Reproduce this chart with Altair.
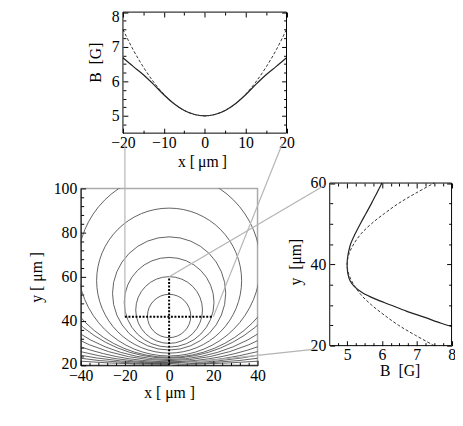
import math
import altair as alt
import pandas as pd

# ---------------- data ----------------
# top panel: |B| along x through the trap (y = 42 um)
top_x = [-20, -17.5, -15, -12.5, -10, -7.5, -5, -2.5, 0, 2.5, 5, 7.5, 10, 12.5, 15, 17.5, 20]
top_B_exact = [6.68, 6.43, 6.19, 5.91, 5.61, 5.35, 5.155, 5.04, 5.0, 5.04, 5.155, 5.35, 5.61, 5.91, 6.19, 6.43, 6.68]
top_B_harmonic = [7.5, 6.91, 6.41, 5.98, 5.625, 5.35, 5.156, 5.04, 5.0, 5.04, 5.156, 5.35, 5.625, 5.98, 6.41, 6.91, 7.5]

# right panel: |B| along y (x = 0)
right_y_exact = [24.7, 25.5, 27, 28.5, 30, 31.5, 33, 34.5, 36, 37.5, 39, 40, 41.5, 43, 45, 47.5, 50, 52.5, 55, 57.5, 60]
right_B_exact = [8.0, 7.70, 7.21, 6.70, 6.25, 5.80, 5.44, 5.21, 5.08, 5.025, 5.003, 5.0, 5.01, 5.04, 5.10, 5.23, 5.38, 5.54, 5.70, 5.85, 6.0]
right_y_harmonic = [20, 22.5, 25, 27.5, 30, 32.5, 35, 37.5, 40, 42.5, 45, 47.5, 50, 52.5, 55, 57.5, 60]
right_B_harmonic = [7.5, 6.97, 6.48, 6.07, 5.70, 5.40, 5.19, 5.05, 5.0, 5.05, 5.19, 5.40, 5.70, 6.07, 6.48, 6.97, 7.5]

# main panel: contour circles (centre on x = 0), centre y and radius in um
circle_cy = [42.3, 45.0, 48.5, 52.5, 58.3, 65.5, 77.0, 84.3, 98.3, 116.3, 144.1, 184.5, 245.7, 343.6, 581.4]
circle_r = [9.8, 15.1, 20.3, 25.6, 32.8, 41.3, 53.4, 61.1, 75.7, 94.2, 122.5, 163.3, 224.8, 323.0, 561.0]

# dotted cuts through the trap
cut_x1 = [-20, 0]
cut_x2 = [20, 0]
cut_y1 = [42, 20]
cut_y2 = [42, 60]

# grey connector lines (main-panel units)
conn_x1 = [-20, 20, 0, 0]
conn_y1 = [42, 42, 60, 20.2]
conn_x2 = [-20, 51.1, 70.2, 66.2]
conn_y2 = [120, 120, 101.3, 27.3]

# tick values
top_x_major = [-20, -10, 0, 10, 20]
top_x_minor = [-15, -5, 5, 15]
top_y_major = [5, 6, 7, 8]
quarter_minor = [v / 4 for v in range(19, 32) if v % 4]
main_major = [-40, -20, 0, 20, 40]
main_x_minor = [v for v in range(-36, 40, 4) if v % 20]
main_y_major = [20, 40, 60, 80, 100]
main_y_minor = [v for v in range(24, 100, 4) if v % 20]
right_x_major = [5, 6, 7, 8]
right_y_major = [20, 40, 60]
right_y_minor = [25, 30, 35, 45, 50, 55]

# ---------------- tables ----------------
top_df = pd.DataFrame({"x": top_x, "exact": top_B_exact, "harm": top_B_harmonic})
re_df = pd.DataFrame({"y": right_y_exact, "B": right_B_exact})
rh_df = pd.DataFrame({"y": right_y_harmonic, "B": right_B_harmonic})
circ_df = pd.DataFrame({"cx": [0] * len(circle_cy), "cy": circle_cy, "r": circle_r})
cut_df = pd.DataFrame({"x": cut_x1, "x2": cut_x2, "y": cut_y1, "y2": cut_y2})
conn_df = pd.DataFrame({"x": conn_x1, "x2": conn_x2, "y": conn_y1, "y2": conn_y2})


def sc(domain, rng):
    return alt.Scale(domain=domain, range=rng, nice=False, zero=False, clamp=False)


MX = sc([-40, 40], [0, 180]); MY = sc([20, 100], [180, 0])
TX = sc([-20, 20], [43, 209.5]); TY = sc([4.5, 8], [-56.3, -179.5])
RX = sc([4.5, 8], [253.5, 377.5]); RY = sc([20, 60], [160, -5.5])

FONT = "Liberation Serif"

circles = alt.Chart(circ_df).mark_arc(
    theta=0, theta2=2 * math.pi, filled=False, stroke="#3a3a3a", strokeWidth=0.8, clip=True
).encode(
    x=alt.X("cx:Q", scale=MX, axis=None),
    y=alt.Y("cy:Q", scale=MY, axis=None),
    radius=alt.Radius("r:Q", stack=False,
                      scale=alt.Scale(type="linear", domain=[0, 80], range=[0, 180],
                                      clamp=False, nice=False)),
)

connectors = alt.Chart(conn_df).mark_rule(color="#b4b4b4", strokeWidth=1.2).encode(
    x=alt.X("x:Q", scale=MX, axis=None), x2="x2:Q",
    y=alt.Y("y:Q", scale=MY, axis=None), y2="y2:Q",
)

cuts = alt.Chart(cut_df).mark_rule(color="black", strokeWidth=2, strokeDash=[2, 1.6]).encode(
    x=alt.X("x:Q", scale=MX, axis=None), x2="x2:Q",
    y=alt.Y("y:Q", scale=MY, axis=None), y2="y2:Q",
)

top_exact = alt.Chart(top_df).mark_line(color="#222", strokeWidth=1.2, interpolate="monotone").encode(
    x=alt.X("x:Q", scale=TX, axis=None), y=alt.Y("exact:Q", scale=TY, axis=None))
top_harm = alt.Chart(top_df).mark_line(color="#333", strokeWidth=1, strokeDash=[3, 2], interpolate="monotone").encode(
    x=alt.X("x:Q", scale=TX, axis=None), y=alt.Y("harm:Q", scale=TY, axis=None))

right_exact = alt.Chart(re_df).mark_line(color="#222", strokeWidth=1.2, interpolate="catmull-rom").encode(
    x=alt.X("B:Q", scale=RX, axis=None), y=alt.Y("y:Q", scale=RY, axis=None), order="y:Q")
right_harm = alt.Chart(rh_df).mark_line(color="#333", strokeWidth=1, strokeDash=[3, 2], interpolate="catmull-rom").encode(
    x=alt.X("B:Q", scale=RX, axis=None), y=alt.Y("y:Q", scale=RY, axis=None), order="y:Q")


def frame(xs, ys, x0, x1, y0, y1):
    return alt.Chart(alt.Data(values=[{"a": x0, "b": x1, "c": y0, "d": y1}])).mark_rect(
        fill="transparent", stroke="black", strokeWidth=1
    ).encode(x=alt.X("a:Q", scale=xs, axis=None), x2="b:Q",
             y=alt.Y("c:Q", scale=ys, axis=None), y2="d:Q")


top_frame = frame(TX, TY, -20, 20, 4.5, 8)
right_frame = frame(RX, RY, 4.5, 8, 20, 60)


def tick_axis(orient, offset, values, size):
    return alt.Axis(orient=orient, offset=offset, values=values, labels=False, domain=False,
                    grid=False, ticks=True, tickSize=size, tickColor="black", tickWidth=1, title=None)


def axis_layer(xs, ys, xaxis, yaxis, ax, ay):
    return alt.Chart(alt.Data(values=[{"ax": ax, "ay": ay}])).mark_point(opacity=0).encode(
        x=alt.X("ax:Q", scale=xs, axis=xaxis),
        y=alt.Y("ay:Q", scale=ys, axis=yaxis))


def label_x(offset, values, title, tx, ty, domain, **kw):
    return alt.Axis(orient="bottom", offset=offset, values=values, ticks=False, tickSize=0,
                    domain=domain, domainColor="black", domainWidth=1, grid=False,
                    labelFont=FONT, labelFontSize=16, labelColor="black",
                    title=title, titleX=tx, titleY=ty, titleAngle=0,
                    titleFont=FONT, titleFontSize=16, titleFontWeight="normal",
                    titleBaseline="middle", titleAlign="center", **kw)


def label_y(offset, values, title, tx, ty, domain, **kw):
    return alt.Axis(orient="left", offset=offset, values=values, ticks=False, tickSize=0,
                    domain=domain, domainColor="black", domainWidth=1, grid=False,
                    labelFont=FONT, labelFontSize=16, labelColor="black",
                    labelPadding=4, title=title, titleX=tx, titleY=ty, titleAngle=270,
                    titleFont=FONT, titleFontSize=16, titleFontWeight="normal",
                    titleBaseline="middle", titleAlign="center", **kw)


axes = [
    # top panel
    axis_layer(TX, TY,
               label_x(-236.3, top_x_major, "x [\u2009μm\u2009]", 123.5, 29, False, labelPadding=2),
               label_y(-43, top_y_major, "B\u00a0\u00a0[G]", -28.3, -128.5, False,
                       labelOffset={"condition": {"test": "datum.value == 8", "value": 5}, "value": 0}),
               0, 6),
    axis_layer(TX, TY, tick_axis("top", 56.3, top_x_major, 5), tick_axis("right", -137, top_y_major, 5), 0, 6),
    axis_layer(TX, TY, tick_axis("bottom", -359.5, top_x_major, 5), tick_axis("left", -209.5, top_y_major, 5), 0, 6),
    axis_layer(TX, TY, tick_axis("top", 56.3, top_x_minor, 3), tick_axis("right", -137, quarter_minor, 3), 0, 6),
    axis_layer(TX, TY, tick_axis("bottom", -359.5, top_x_minor, 3), tick_axis("left", -209.5, quarter_minor, 3), 0, 6),
    # main panel
    axis_layer(MX, MY,
               label_x(0, main_major, "x [ μm ]", 90, 28, True, labelPadding=2),
               label_y(0, main_y_major, "y [ μm ]", -45.3, 90, True,
                       labelOffset={"condition": {"test": "datum.value == 20", "value": -2}, "value": 0}),
               0, 50),
    axis_layer(MX, MY, tick_axis("top", -180, main_major, 5), tick_axis("right", -180, main_y_major, 5), 0, 50),
    axis_layer(MX, MY, tick_axis("top", -180, main_x_minor, 3), tick_axis("right", -180, main_y_minor, 3), 0, 50),
    # right panel
    axis_layer(RX, RY,
               label_x(-20, right_x_major, "B\u00a0\u00a0[G]", 324.7, 25.5, False, labelPadding=1),
               label_y(-253.5, right_y_major, "y\u00a0\u00a0[μm]", -34.5, 74.5, False),
               6, 40),
    axis_layer(RX, RY, tick_axis("top", -160, right_x_major, 5), tick_axis("right", 73.5, right_y_major, 5), 6, 40),
    axis_layer(RX, RY, tick_axis("bottom", -185.5, right_x_major, 5), tick_axis("left", -377.5, right_y_major, 5), 6, 40),
    axis_layer(RX, RY, tick_axis("top", -160, quarter_minor, 3), tick_axis("right", 73.5, right_y_minor, 3), 6, 40),
    axis_layer(RX, RY, tick_axis("bottom", -185.5, quarter_minor, 3), tick_axis("left", -377.5, right_y_minor, 3), 6, 40),
]

chart = alt.layer(
    circles, connectors, cuts,
    top_exact, top_harm, top_frame,
    right_exact, right_harm, right_frame,
    *axes,
).resolve_scale(x="independent", y="independent").properties(
    width=180, height=180,
    autosize=alt.AutoSizeParams(type="none"),
    padding={"left": 74, "top": 180, "right": 201, "bottom": 50},
).configure_view(
    stroke="#aaaaaa", strokeWidth=1.5
).configure_axis(
    labelFont=FONT, titleFont=FONT, labelFontSize=16, titleFontSize=16,
    titleFontWeight="normal", labelColor="black", titleColor="black",
    labelFlush=False, labelOverlap=False,
)

chart.save("out.html", embed_options={"renderer": "svg", "actions": False})
